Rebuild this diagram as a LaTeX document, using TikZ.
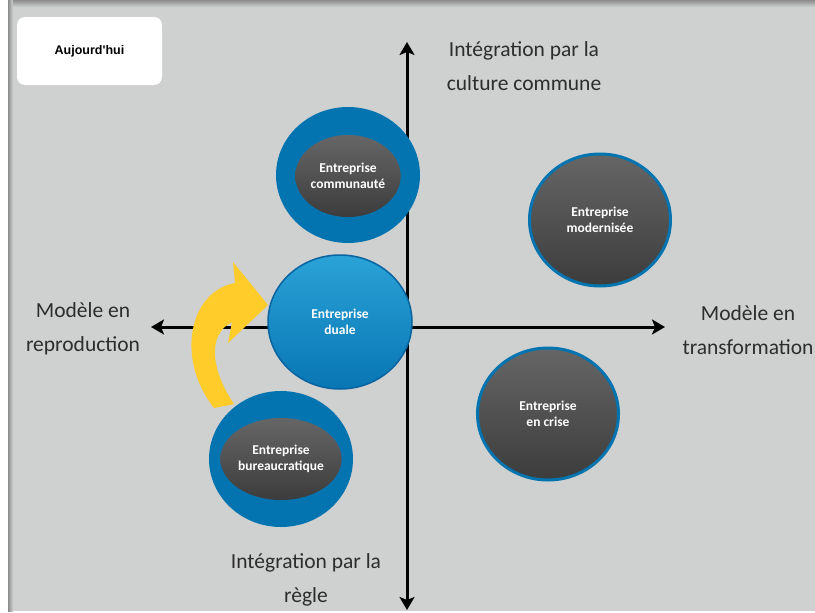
\documentclass[tikz,border=0pt]{standalone}
\usepackage{fontspec}
\setmainfont{Carlito}
\newfontfamily\arialfont{Liberation Sans}
\usetikzlibrary{shapes.geometric,arrows.meta}
\definecolor{bg}{RGB}{207,208,208}
\definecolor{shadowgray}{RGB}{140,140,140}
\definecolor{ringblue}{RGB}{4,116,176}
\definecolor{dualtop}{RGB}{42,162,215}
\definecolor{dualbot}{RGB}{8,118,180}
\definecolor{dualedge}{RGB}{10,100,160}
\definecolor{darktop}{RGB}{102,102,102}
\definecolor{darkbot}{RGB}{60,60,60}
\definecolor{gold}{RGB}{255,204,41}
\definecolor{labelgray}{RGB}{45,45,45}
\begin{document}
\begin{tikzpicture}[x=1pt,y=-1pt,
  axis/.style={line width=3pt, -{Stealth[length=13pt,width=15pt,inset=3pt]}},
  axlabel/.style={font=\fontsize{21.5}{34}\selectfont, text=labelgray, align=center, inner sep=0pt},
  ring/.style={ellipse, fill=ringblue, minimum width=144pt, minimum height=136pt, inner sep=0pt},
  core/.style={ellipse, top color=darktop, bottom color=darkbot, minimum width=104pt, minimum height=82pt, inner sep=0pt, text=white, font=\bfseries\fontsize{13.5}{15.5}\selectfont, align=center},
  darkball/.style={ellipse, draw=ringblue, line width=3pt, top color=darktop, bottom color=darkbot, minimum width=141pt, minimum height=132pt, inner sep=0pt, text=white, font=\bfseries\fontsize{13.5}{15.5}\selectfont, align=center},
  dualball/.style={ellipse, draw=dualedge, line width=1.5pt, top color=dualtop, bottom color=dualbot, minimum width=144pt, minimum height=134pt, inner sep=0pt, text=white, font=\bfseries\fontsize{13.5}{15.5}\selectfont, align=center},
  tagbox/.style={rounded corners=8pt, fill=white, minimum width=145pt, minimum height=68pt, inner sep=0pt, font=\arialfont\bfseries\fontsize{12.5}{14}\selectfont}
]
\useasboundingbox (0,0) rectangle (815,613);
\fill[white] (0,0) rectangle (815,613);
\fill[bg] (8,0) rectangle (815,611);
\shade[top color=shadowgray, bottom color=bg] (8,0) rectangle (815,7);
\shade[left color=shadowgray, right color=bg] (8,0) rectangle (13,611);

\node[tagbox] (today) at (89.5,51) {Aujourd'hui};

% axes
\coordinate (top) at (407,42);
\coordinate (bottom) at (407,610);
\coordinate (left) at (151,327);
\coordinate (right) at (665,327);
\coordinate (origin) at (407,327);
\draw[axis] (origin) -- (top);
\draw[axis] (origin) -- (bottom);
\draw[axis] (origin) -- (left);
\draw[axis] (origin) -- (right);

\node[axlabel] (lblTop) at (524,66) {Intégration par la\\culture commune};
\node[axlabel] (lblLeft) at (83,329) {Modèle en\\reproduction};
\node[axlabel] (lblRight) at (748,330) {Modèle en\\transformation};
\node[axlabel] (lblBottom) at (306,580) {Intégration par la\\règle};

% rings
\node[ring] (commOut) at (348,175) {};
\node[core] (comm) at (348,176) {Entreprise\\communauté};
\node[ring] (bureauOut) at (281,459) {};
\node[core] (bureau) at (281,459) {Entreprise\\bureaucratique};
\node[darkball] (modern) at (600,220) {Entreprise\\modernisée};
\node[darkball] (crise) at (548,414) {Entreprise\\en crise};
\node[dualball] (duale) at (340,322) {Entreprise\\duale};

% yellow curved arrow
\fill[gold] (234,404) .. controls (212,372) and (206,335) .. (232,322)
  -- (228,343) -- (268,305) -- (233,262) -- (235,283)
  .. controls (188,292) and (176,360) .. (214,408) -- cycle;
\end{tikzpicture}
\end{document}
